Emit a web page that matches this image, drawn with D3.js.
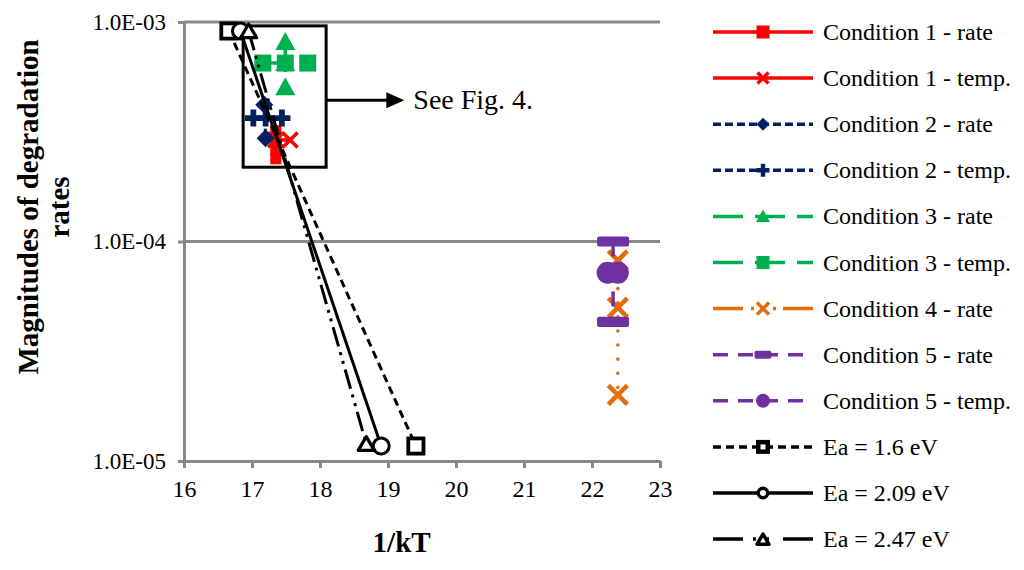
<!DOCTYPE html>
<html><head><meta charset="utf-8">
<script src="https://cdn.jsdelivr.net/npm/d3@7"></script>
<style>
body{margin:0;background:#fff;}
svg{display:block;font-family:"Liberation Serif","Times New Roman",serif;}
</style></head>
<body><svg id="c" width="1024" height="570"></svg>
<script>
// ---------- data ----------
const xTicks = [16, 17, 18, 19, 20, 21, 22, 23];
const yTicks = [1e-5, 1e-4, 1e-3];
const yTickLabels = ["1.0E-05", "1.0E-04", "1.0E-03"];

const cond1Rate = [{x:17.35,y:3.2e-4},{x:17.35,y:2.9e-4},{x:17.35,y:2.6e-4},{x:17.35,y:2.38e-4}];
const cond1Temp = [{x:17.35,y:2.9e-4},{x:17.56,y:2.9e-4}];
const cond2Rate = [{x:17.18,y:4.2e-4},{x:17.2,y:2.95e-4}];
const cond2Temp = [{x:17.02,y:3.65e-4},{x:17.2,y:3.65e-4},{x:17.44,y:3.65e-4}];
const cond3Rate = [{x:17.49,y:8.1e-4},{x:17.49,y:6.5e-4},{x:17.49,y:5.05e-4}];
const cond3Temp = [{x:17.16,y:6.5e-4},{x:17.49,y:6.5e-4},{x:17.82,y:6.5e-4}];
const cond4Rate = [{x:22.38,y:8.2e-5},{x:22.38,y:5.0e-5},{x:22.38,y:2.0e-5}];
const cond5Rate = [{x:22.31,y:1.0e-4},{x:22.31,y:4.3e-5}];
const cond5Temp = [{x:22.23,y:7.2e-5},{x:22.38,y:7.2e-5}];
const ea16  = [{x:16.66,y:9.1e-4},{x:19.41,y:1.17e-5}];
const ea209 = [{x:16.83,y:9.1e-4},{x:18.9,y:1.17e-5}];
const ea247 = [{x:16.95,y:9.1e-4},{x:18.68,y:1.2e-5}];

const boxX = [16.87, 18.09];
const boxY = [9.6e-4, 2.18e-4];
const arrowX = [18.09, 19.24];
const arrowY = 4.4e-4;
const noteText = "See Fig. 4.";

// ---------- styles ----------
const series = [
  {name:"Condition 1 - rate",  data:cond1Rate, color:"#FF0000", dash:null,   marker:"square",  ms:11, lms:13, lw:4},
  {name:"Condition 1 - temp.", data:cond1Temp, color:"#FF0000", dash:null,   marker:"x",       ms:15, lms:11, lw:3.5},
  {name:"Condition 2 - rate",  data:cond2Rate, color:"#002060", dash:"8,4",  marker:"diamond", ms:18, lms:13, lw:3},
  {name:"Condition 2 - temp.", data:cond2Temp, color:"#002060", dash:"8,4",  marker:"plus",    ms:17, lms:13, lw:3},
  {name:"Condition 3 - rate",  data:cond3Rate, color:"#00B050", dash:"30,12",marker:"triangle",ms:20, lms:14, lw:3.5},
  {name:"Condition 3 - temp.", data:cond3Temp, color:"#00B050", dash:"30,12",marker:"square",  ms:17, lms:13, lw:3.5},
  {name:"Condition 4 - rate",  data:cond4Rate, color:"#E46C0A", dash:"30,8,3,8,3,8,3,7", marker:"x", ms:19, lms:12, lw:3.5, plotDash:"0.1,14"},
  {name:"Condition 5 - rate",  data:cond5Rate, color:"#7030A0", dash:"15,10",marker:"dash",    ms:32, lms:17, lw:3.5},
  {name:"Condition 5 - temp.", data:cond5Temp, color:"#7030A0", dash:"15,10",marker:"circle",  ms:22, lms:14, lw:3.5},
  {name:"Ea = 1.6 eV",  data:ea16,  color:"#000000", dash:"8,5",   marker:"osquare",  ms:19, lms:14, lw:3},
  {name:"Ea = 2.09 eV", data:ea209, color:"#000000", dash:null,    marker:"ocircle",  ms:19, lms:13, lw:3},
  {name:"Ea = 2.47 eV", data:ea247, color:"#000000", dash:"30,10,3,10,3,14", marker:"otriangle", ms:18, lms:14, lw:3, plotDash:"20,6,3,6,3,6"}
];

// ---------- scales ----------
const svg = d3.select("#c");
const x = d3.scaleLinear().domain([16, 23]).range([184, 660]);
const y = d3.scaleLog().domain([1e-5, 1e-3]).range([461, 22]);
const grey = "#898989";

// gridlines
svg.append("g").selectAll("line").data(yTicks.slice(1)).join("line")
  .attr("x1", x(16)).attr("x2", x(23))
  .attr("y1", d => y(d)).attr("y2", d => y(d))
  .attr("stroke", grey).attr("stroke-width", 3);

// axes
const xAxis = d3.axisBottom(x).tickValues(xTicks).tickSize(7).tickSizeOuter(0).tickPadding(12)
  .tickFormat(d3.format("d"));
const gx = svg.append("g").attr("transform", `translate(0,${y(1e-5)})`).call(xAxis);
gx.select(".domain").attr("stroke", grey).attr("stroke-width", 3);
gx.selectAll(".tick line").attr("stroke", grey).attr("stroke-width", 3);
gx.selectAll(".tick text").attr("fill", "#000").attr("font-size", 24)
  .attr("font-family", "Liberation Serif");

const yAxis = d3.axisLeft(y).tickValues(yTicks).tickSize(6).tickSizeOuter(0).tickPadding(12)
  .tickFormat(d => yTickLabels[yTicks.indexOf(d)]);
const gy = svg.append("g").attr("transform", `translate(${x(16)},0)`).call(yAxis);
gy.select(".domain").attr("stroke", grey).attr("stroke-width", 3);
gy.selectAll(".tick line").attr("stroke", grey).attr("stroke-width", 3);
gy.selectAll(".tick text").attr("fill", "#000").attr("font-size", 23)
  .attr("font-family", "Liberation Serif");

// axis titles
svg.append("text").attr("x", x(19.2)).attr("y", 552).attr("text-anchor", "middle")
  .attr("font-weight", "bold").attr("font-size", 29).text("1/kT");
const yt = svg.append("text").attr("transform", "translate(38,207) rotate(-90)")
  .attr("text-anchor", "middle").attr("font-weight", "bold").attr("font-size", 29);
yt.append("tspan").attr("x", 0).attr("y", 0).text("Magnitudes of degradation");
yt.append("tspan").attr("x", 0).attr("y", 31).text("rates");

// annotation box + arrow
svg.append("rect").attr("x", x(boxX[0])).attr("y", y(boxY[0]))
  .attr("width", x(boxX[1]) - x(boxX[0])).attr("height", y(boxY[1]) - y(boxY[0]))
  .attr("fill", "none").attr("stroke", "#000").attr("stroke-width", 3);
const ay = y(arrowY);
svg.append("line").attr("x1", x(arrowX[0])).attr("x2", x(arrowX[1]) - 14)
  .attr("y1", ay).attr("y2", ay).attr("stroke", "#000").attr("stroke-width", 3);
svg.append("path").attr("d", `M${x(arrowX[1]) - 18},${ay - 8}L${x(arrowX[1])},${ay}L${x(arrowX[1]) - 18},${ay + 8}Z`)
  .attr("fill", "#000");
svg.append("text").attr("x", x(arrowX[1]) + 9).attr("y", ay + 9).attr("font-size", 28).text(noteText);

// ---------- markers ----------
function marker(g, type, cx, cy, s, color, heavy) {
  const h = s / 2;
  switch (type) {
    case "square":
      g.append("rect").attr("x", cx - h).attr("y", cy - h).attr("width", s).attr("height", s).attr("fill", color); break;
    case "diamond":
      g.append("path").attr("d", `M${cx},${cy - h}L${cx + h},${cy}L${cx},${cy + h}L${cx - h},${cy}Z`).attr("fill", color); break;
    case "triangle":
      g.append("path").attr("d", `M${cx},${cy - h}L${cx + h},${cy + h * 0.8}L${cx - h},${cy + h * 0.8}Z`).attr("fill", color); break;
    case "plus": {
      const t = s * 0.17;
      g.append("path").attr("d", `M${cx - t},${cy - h}H${cx + t}V${cy - t}H${cx + h}V${cy + t}H${cx + t}V${cy + h}H${cx - t}V${cy + t}H${cx - h}V${cy - t}H${cx - t}Z`)
        .attr("fill", color); break;
    }
    case "x":
      g.append("path").attr("d", `M${cx - h},${cy - h}L${cx + h},${cy + h}M${cx + h},${cy - h}L${cx - h},${cy + h}`)
        .attr("stroke", color).attr("stroke-width", Math.max(3.5, s * 0.24)).attr("fill", "none"); break;
    case "dash":
      g.append("rect").attr("x", cx - h).attr("y", cy - Math.max(4, s * 0.16)).attr("width", s).attr("height", Math.max(8, s * 0.32))
        .attr("rx", 2).attr("fill", color); break;
    case "circle":
      g.append("circle").attr("cx", cx).attr("cy", cy).attr("r", h).attr("fill", color); break;
    case "osquare": {
      const sw = heavy ? 4.5 : Math.max(2.5, s * 0.2);
      g.append("rect").attr("x", cx - h + sw / 2).attr("y", cy - h + sw / 2).attr("width", s - sw).attr("height", s - sw)
        .attr("fill", "#fff").attr("stroke", color).attr("stroke-width", sw); break;
    }
    case "ocircle": {
      const sw = heavy ? 3.5 : Math.max(2.5, s * 0.16);
      g.append("circle").attr("cx", cx).attr("cy", cy).attr("r", h - sw / 2)
        .attr("fill", "#fff").attr("stroke", color).attr("stroke-width", sw); break;
    }
    case "otriangle": {
      const sw = heavy ? 3.5 : Math.max(2.5, s * 0.18);
      g.append("path").attr("d", `M${cx},${cy - h + 2}L${cx + h - 1},${cy + h * 0.75}L${cx - h + 1},${cy + h * 0.75}Z`)
        .attr("fill", "#fff").attr("stroke", color).attr("stroke-width", sw).attr("stroke-linejoin", "round"); break;
    }
  }
}

// ---------- series ----------
const line = d3.line().x(d => x(d.x)).y(d => y(d.y));
const plot = svg.append("g");
series.forEach(s => {
  const g = plot.append("g");
  const pd = s.plotDash !== undefined ? s.plotDash : s.dash;
  g.append("path").attr("d", line(s.data)).attr("fill", "none").attr("stroke", s.color)
    .attr("stroke-width", s.lw).attr("stroke-dasharray", pd)
    .attr("stroke-linecap", s.plotDash === "0.1,14" ? "round" : "butt");
  s.data.forEach(d => marker(g, s.marker, x(d.x), y(d.y), s.ms, s.color, false));
});

// ---------- legend ----------
const legend = svg.append("g");
series.forEach((s, i) => {
  const ly = 32 + i * 46.1;
  const g = legend.append("g");
  g.append("line").attr("x1", 713).attr("x2", 813).attr("y1", ly).attr("y2", ly)
    .attr("stroke", s.color).attr("stroke-width", 3.5).attr("stroke-dasharray", s.dash);
  marker(g, s.marker, 763, ly, s.lms, s.color, true);
  g.append("text").attr("x", 823).attr("y", ly + 8).attr("font-size", 24).text(s.name);
});
</script></body></html>
